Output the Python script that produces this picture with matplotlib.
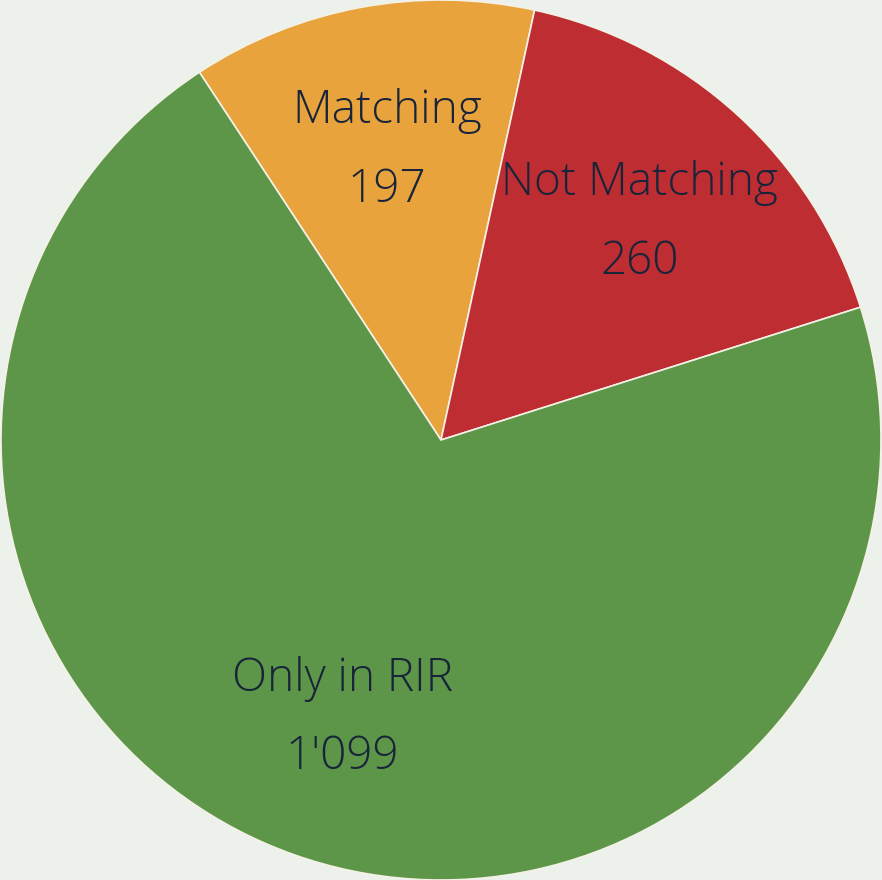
import matplotlib

matplotlib.use("Agg")

import matplotlib.pyplot as plt
import numpy as np

categories = ["Matching", "Not Matching", "Only in RIR"]
counts = [197, 260, 1099]
value_labels = ["197", "260", "1'099"]
colors = ["#e8a33d", "#bd2d32", "#5d9648"]

BG = "#edf1ec"
TEXT = "#17243a"

fig = plt.figure(figsize=(8.82, 8.80), dpi=100, facecolor=BG)
ax = fig.add_axes([0, 0, 1, 1])
ax.set_facecolor(BG)

wedges, _ = ax.pie(
    counts,
    colors=colors,
    startangle=123.3,
    counterclock=False,
    radius=1.0,
    wedgeprops=dict(edgecolor="#f4f1e6", linewidth=1.2),
)

# label placement: name above, value below, at ~2/3 radius
for w, name, val in zip(wedges, categories, value_labels):
    mid = np.deg2rad((w.theta1 + w.theta2) / 2)
    cx, cy = 0.67 * np.cos(mid), 0.67 * np.sin(mid)
    ax.text(cx, cy + 0.088, name, ha="center", va="center", fontsize=33,
            fontweight="light", color=TEXT, family=["Open Sans", "DejaVu Sans"])
    ax.text(cx, cy - 0.09, val, ha="center", va="center", fontsize=33,
            fontweight="light", color=TEXT, family=["Open Sans", "DejaVu Sans"])

ax.set_xlim(-441 / 440, 441 / 440)
ax.set_ylim(-440 / 440, 440 / 440)
ax.set_aspect("auto")
ax.axis("off")

fig.savefig("out.png", dpi=100, facecolor=BG)
